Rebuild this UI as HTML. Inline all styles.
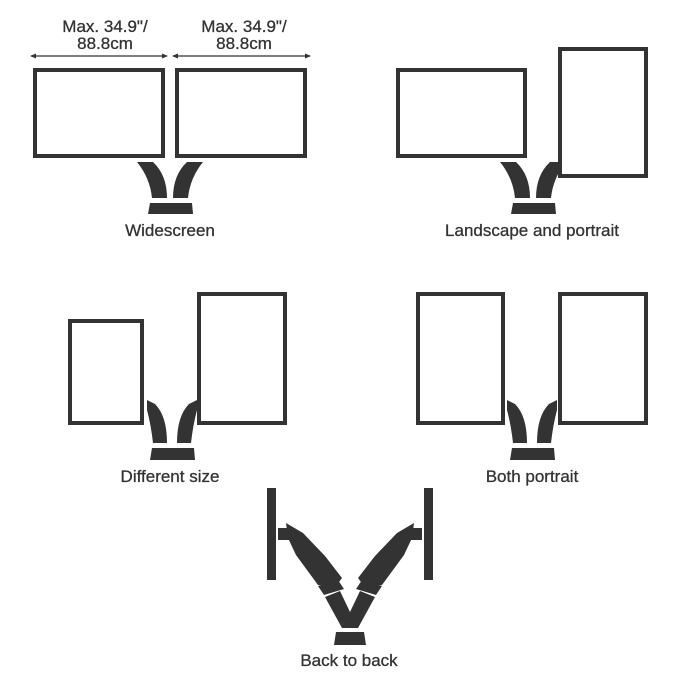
<!DOCTYPE html>
<html><head><style>
html,body{margin:0;padding:0;background:#fff;}
svg{display:block;}
text{font-family:"Liberation Sans","DejaVu Sans",sans-serif;fill:#333;font-size:17px;text-anchor:middle;stroke:#333;stroke-width:0.3;}
</style></head><body>
<svg width="700" height="676" viewBox="0 0 700 676" xmlns="http://www.w3.org/2000/svg">
<defs>
<g id="arms">
<path d="M-33,0 L-17,0 Q-3,13 -3,36 L-18,36 Q-20,16 -33,0Z" fill="#333"/>
<path d="M33,0 L17,0 Q3,13 3,36 L18,36 Q20,16 33,0Z" fill="#333"/>
</g>
<g id="parms">
<path d="M-25,0 L-17,4 Q-5,16 -5,43 L-19,43 Q-21,25 -25,10Z" fill="#333"/>
<path d="M25,0 L17,4 Q5,16 5,43 L19,43 Q21,25 25,10Z" fill="#333"/>
</g>
</defs>
<!-- stands -->
<g transform="translate(170,162)"><use href="#arms"/><path d="M-20,41 L22,41 L23,52 L-22,52Z" fill="#333"/></g>
<g transform="translate(533,162)"><use href="#arms"/><path d="M-20,41 L22,41 L23,52 L-22,52Z" fill="#333"/></g>
<g transform="translate(172,400)"><use href="#parms"/><path d="M-20,48 L22,48 L23,60 L-22,60Z" fill="#333"/></g>
<g transform="translate(532,400)"><use href="#parms"/><path d="M-20,48 L22,48 L23,60 L-22,60Z" fill="#333"/></g>
<g fill="#fff" stroke="#333" stroke-width="4">
<rect x="35" y="70" width="128" height="86"/>
<rect x="177" y="70" width="128" height="86"/>
<rect x="398" y="70" width="127" height="86"/>
<rect x="560" y="49" width="86" height="127"/>
<rect x="70" y="321" width="72" height="102"/>
<rect x="199" y="294" width="86" height="129"/>
<rect x="418" y="294" width="85" height="129"/>
<rect x="560" y="294" width="86" height="129"/>
</g>
<!-- arrows -->
<g stroke="#333" stroke-width="1.2">
<line x1="31" y1="56" x2="167" y2="56"/>
<line x1="173" y1="56" x2="310" y2="56"/>
</g>
<g fill="#333">
<path d="M30,56 L36,53.5 L36,58.5Z"/><path d="M168,56 L162,53.5 L162,58.5Z"/>
<path d="M172,56 L178,53.5 L178,58.5Z"/><path d="M311,56 L305,53.5 L305,58.5Z"/>
</g>
<text x="105" y="32">Max. 34.9"/</text>
<text x="105" y="49">88.8cm</text>
<text x="244" y="32">Max. 34.9"/</text>
<text x="244" y="49">88.8cm</text>
<text x="170" y="236">Widescreen</text>
<text x="532" y="236">Landscape and portrait</text>
<text x="170" y="482">Different size</text>
<text x="532" y="482">Both portrait</text>
<!-- back to back -->
<g fill="#333">
<rect x="267" y="488" width="9" height="92"/>
<rect x="424" y="488" width="9" height="92"/>
<rect x="278" y="528" width="11" height="12"/>
<rect x="411" y="528" width="11" height="12"/>
<path d="M286,523 L303,533 L325,556 L342,578 L336,586 L318,585 L296,555 L288,538Z"/>
<path d="M414,523 L397,533 L375,556 L358,578 L364,586 L382,585 L404,555 L412,538Z"/>
<path d="M318,586 L338,580 L344,589 L324,595Z"/>
<path d="M382,586 L362,580 L356,589 L376,595Z"/>
<path d="M325,597 L340,591 L350,612 L360,591 L375,597 L358,628 L342,628Z"/>
<path d="M336,632 L364,632 L366,645 L334,645Z"/>
</g>
<text x="349" y="666">Back to back</text>
</svg>
</body></html>
